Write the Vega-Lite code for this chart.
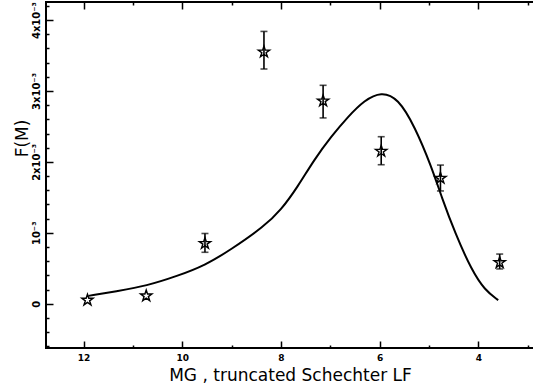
{
  "$schema": "https://vega.github.io/schema/vega-lite/v6.json",
  "width": 488,
  "height": 346,
  "autosize": "none",
  "padding": {"left": 46, "top": 2, "right": 0, "bottom": 43},
  "background": "white",
  "config": {
    "view": {"stroke": "black", "strokeWidth": 2},
    "axis": {"grid": false, "domain": false, "tickColor": "black", "labelColor": "black", "titleColor": "black", "labelFont": "DejaVu Sans", "labelFontWeight": "bold", "labelFontSize": 9, "titleFont": "DejaVu Sans", "titleFontWeight": "normal"}
  },
  "datasets": {
    "curve": [
      {"M": 11.9, "F": 0.00011},
      {"M": 11.3, "F": 0.00018},
      {"M": 10.73, "F": 0.00025},
      {"M": 10.1, "F": 0.00039},
      {"M": 9.54, "F": 0.00054},
      {"M": 9.02, "F": 0.00076},
      {"M": 8.34, "F": 0.00109},
      {"M": 8.0, "F": 0.00132},
      {"M": 7.66, "F": 0.00165},
      {"M": 7.33, "F": 0.00203},
      {"M": 6.98, "F": 0.00236},
      {"M": 6.64, "F": 0.00264},
      {"M": 6.31, "F": 0.00287},
      {"M": 5.97, "F": 0.00299},
      {"M": 5.63, "F": 0.0029},
      {"M": 5.29, "F": 0.0025},
      {"M": 4.95, "F": 0.00193},
      {"M": 4.75, "F": 0.00151},
      {"M": 4.47, "F": 0.00099},
      {"M": 4.14, "F": 0.000475},
      {"M": 3.87, "F": 0.00019},
      {"M": 3.6, "F": 0.00005}
    ],
    "points": [
      {"M": 11.92, "F": 0.00005, "lo": null, "hi": null},
      {"M": 10.73, "F": 0.00011, "lo": null, "hi": null},
      {"M": 9.54, "F": 0.00085, "lo": 0.000725, "hi": 0.00099},
      {"M": 8.345, "F": 0.00355, "lo": 0.00331, "hi": 0.00384},
      {"M": 7.147, "F": 0.00286, "lo": 0.00262, "hi": 0.00308},
      {"M": 5.97, "F": 0.00215, "lo": 0.00196, "hi": 0.002355},
      {"M": 4.77, "F": 0.00177, "lo": 0.00159, "hi": 0.001955},
      {"M": 3.57, "F": 0.00058, "lo": 0.00049, "hi": 0.0007}
    ]
  },
  "layer": [
    {
      "data": {"name": "curve"},
      "mark": {"type": "line", "color": "black", "strokeWidth": 2, "interpolate": "basis"},
      "encoding": {
        "x": {
          "field": "M", "type": "quantitative",
          "scale": {"domain": [2.875, 12.76], "reverse": true, "nice": false, "zero": false},
          "axis": {
            "orient": "bottom",
            "values": [3, 4, 5, 6, 7, 8, 9, 10, 11, 12],
            "labelExpr": "datum.value % 2 === 0 ? datum.label : ''",
            "tickSize": {"condition": {"test": "datum.value % 2 === 0", "value": -7}, "value": -3},
            "tickWidth": 1.5,
            "labelPadding": 12,
            "title": "MG , truncated Schechter LF",
            "titleFontSize": 17,
            "titleBaseline": "middle",
            "titleY": 27
          }
        },
        "y": {
          "field": "F", "type": "quantitative",
          "scale": {"domain": [-0.000625, 0.004255], "nice": false, "zero": false},
          "axis": {
            "orient": "left",
            "values": [-0.0006, -0.0004, -0.0002, 0, 0.0002, 0.0004, 0.0006, 0.0008, 0.001, 0.0012, 0.0014, 0.0016, 0.0018, 0.002, 0.0022, 0.0024, 0.0026, 0.0028, 0.003, 0.0032, 0.0034, 0.0036, 0.0038, 0.004, 0.0042],
            "labelExpr": "abs(datum.value*1000 - round(datum.value*1000)) < 0.001 ? (round(datum.value*1000) == 0 ? '0' : (round(datum.value*1000) == 1 ? '10\u207b\u00b3' : round(datum.value*1000) + 'x10\u207b\u00b3')) : ''",
            "tickSize": {"condition": {"test": "abs(datum.value*1000 - round(datum.value*1000)) < 0.001", "value": -7}, "value": -3},
            "tickWidth": 1.5,
            "labelAngle": -90,
            "labelFontSize": 10,
            "labelPadding": 12,
            "title": "F(M)",
            "titleFontSize": 17,
            "titleAngle": -90,
            "titleBaseline": "middle",
            "titleAlign": "center",
            "titleX": -24,
            "titleY": 136
          }
        }
      }
    },
    {
      "data": {"name": "points"},
      "mark": {"type": "errorbar", "ticks": true, "size": 7, "thickness": 1.6, "color": "black"},
      "encoding": {
        "x": {
          "field": "M", "type": "quantitative",
          "scale": {"domain": [2.875, 12.76], "reverse": true, "nice": false, "zero": false},
          "axis": {
            "orient": "top",
            "values": [3, 4, 5, 6, 7, 8, 9, 10, 11, 12],
            "labels": false,
            "tickSize": {"condition": {"test": "datum.value % 2 === 0", "value": -7}, "value": -3},
            "tickWidth": 1.5,
            "title": null
          }
        },
        "y": {"field": "lo", "type": "quantitative", "scale": {"domain": [-0.000625, 0.004255], "nice": false, "zero": false}, "axis": null},
        "y2": {"field": "hi"}
      }
    },
    {
      "data": {"name": "points"},
      "mark": {"type": "point", "shape": "M0,-1L0.2245,-0.309L0.951,-0.309L0.363,0.118L0.588,0.809L0,0.382L-0.588,0.809L-0.363,0.118L-0.951,-0.309L-0.2245,-0.309Z", "size": 140, "filled": false, "stroke": "black", "strokeWidth": 1.4, "opacity": 1},
      "encoding": {
        "x": {"field": "M", "type": "quantitative", "scale": {"domain": [2.875, 12.76], "reverse": true, "nice": false, "zero": false}, "axis": null},
        "y": {"field": "F", "type": "quantitative", "scale": {"domain": [-0.000625, 0.004255], "nice": false, "zero": false}, "axis": null}
      }
    }
  ],
  "resolve": {"axis": {"x": "independent", "y": "independent"}}
}
